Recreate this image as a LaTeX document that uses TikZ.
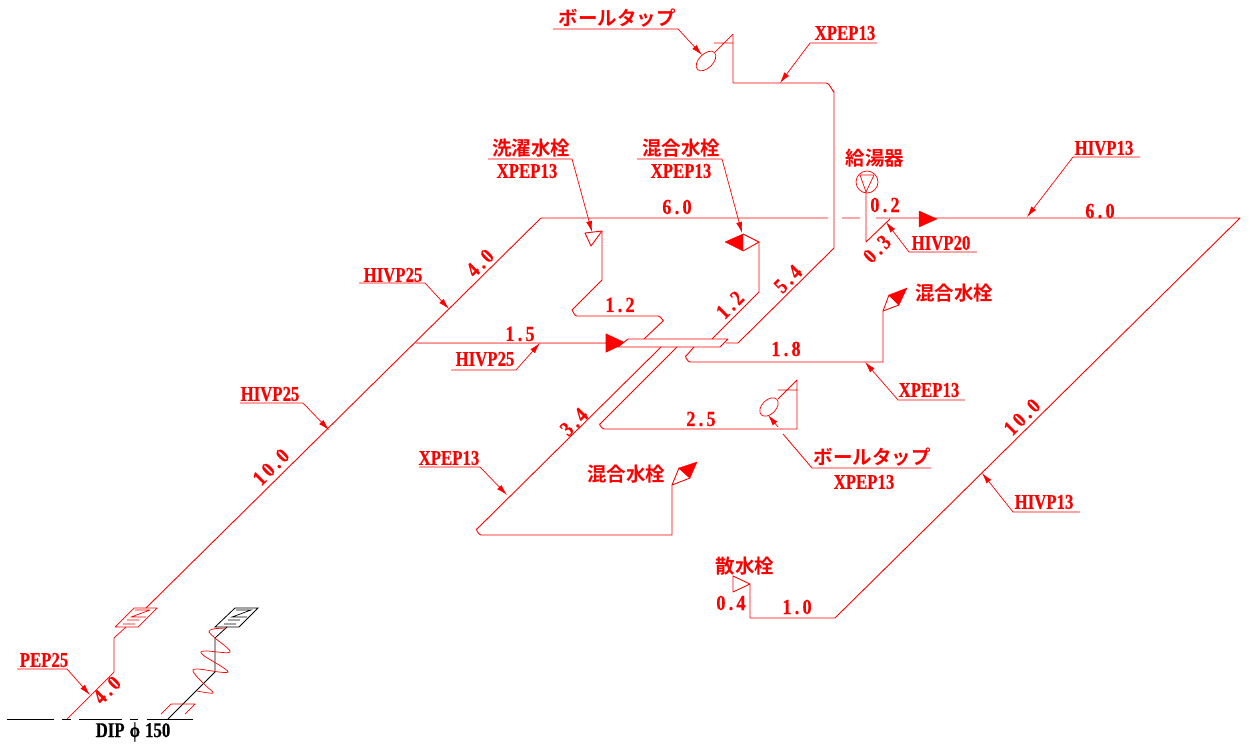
\documentclass[tikz,border=0pt]{standalone}
\usepackage{fontspec}
\usetikzlibrary{arrows.meta}
\setmainfont{Liberation Serif}
\newfontfamily\latinfont[FakeStretch=0.8,FakeBold=0.4]{Liberation Serif Bold}
\newfontfamily\dimfont[FakeStretch=0.85,FakeBold=0.4,LetterSpace=15]{Liberation Serif Bold}
\newfontfamily\cjkfont{Noto Sans CJK JP Bold}
\definecolor{pipered}{RGB}{255,0,0}
\begin{document}
\begin{tikzpicture}[x=1pt,y=-1pt,pipered]
    \tikzset{
        every node/.style={inner sep=0pt, text=pipered},
        pipe/.style={pipered, line width=0.9pt, line join=round},
        thinpipe/.style={pipe, line width=0.7pt},
        leader/.style={pipered, line width=0.7pt, -{Latex[length=11pt,width=6pt]}},
        rule/.style={pipered, line width=0.8pt},
        lbl/.style={font=\latinfont\fontsize{21}{21}\selectfont},
        dim/.style={font=\dimfont\fontsize{21.5}{21}\selectfont},
        rdim/.style={dim, rotate=45},
        jp/.style={font=\cjkfont\fontsize{19.5}{20}\selectfont},
        solid tri/.style={fill=pipered, draw=pipered, line width=0.4pt}
        }
    \useasboundingbox (0,0) rectangle (1250,747);

    %base line
    \draw[black, line width=0.9pt] (7,719) -- (54,719) (62,719) -- (71,719) (79,719) -- (122,719) (130,719) -- (138,719) (147,719) -- (193,719);
    \node (dip) [lbl, text=black] at (133,732) {DIP\hspace{5pt}ϕ\hspace{5pt}150};

    %main riser
    \draw[thinpipe] (67,719) -- (114,672) -- (114,638) -- (126,627);
    \draw[pipe] (146,608) -- (541,218) -- (828,218) (842,218) -- (860,218) (876,218) -- (1240,218) -- (835,618) -- (750,618) -- (750,584) -- (733,592) -- (733,576) -- (750,584);

    %meter
    \draw[thinpipe] (115,627) -- (134,608) -- (157,608) -- (138,627) -- cycle;
    \draw[thinpipe] (123,624) -- (135,624) (127,620) -- (139,620) (135,610) -- (150,610) -- (131,617) -- (146,617);

    %black meter
    \draw[black, line width=0.8pt] (168,719) -- (215,672) -- (215,638) -- (227,627);
    \draw[black, line width=0.8pt] (215,627) -- (235,608) -- (258,608) -- (239,627) -- cycle;
    \draw[black, line width=0.7pt] (224,624) -- (236,624) (228,620) -- (240,620) (236,610) -- (251,610) -- (232,617) -- (247,617);

    %coil and trap
    \draw[thinpipe] plot[smooth, tension=0.6] coordinates {(226,628) (213,629) (209,632) (215,638) (230,652) (205,651) (203,655) (228,672) (197,669) (194,673) (205,685) (213,693) (197,691)};
    \draw[thinpipe] (161,714) -- (171,704) -- (195,704) -- (185,714);

    %ball tap top
    \draw[pipe] (733,34) -- (733,83) -- (826,83) to[out=0,in=-90] (834,91) -- (834,248) -- (738,343) -- (726,343);
    \draw[thinpipe] (733,34) -- (715,52) (714,43) -- (733,43);
    \draw[thinpipe, rotate around={45:(706,61)}] (706,61) ellipse [x radius=12, y radius=7];

    %water heater
    \draw[thinpipe] (867,182) circle (11);
    \draw[thinpipe] (860,175) -- (874,175) -- (866,192) -- cycle;
    \draw[pipe] (866,192) -- (866,242) -- (890,219);

    %flow marks
    \fill[solid tri] (919,211) -- (937,219) -- (919,227) -- cycle;
    \draw[pipe, fill=pipered] (416,343) -- (606,343) -- (606,334) -- (625,343) -- (606,352) -- (606,343);

    %faucets
    \draw[pipe] (585,233) -- (602,231) -- (591,246) -- cycle;
    \draw[pipe] (602,231) -- (602,280) -- (572,310) to[out=-45,in=180] (577,316) -- (658,316) to[out=0,in=-45] (663,321) -- (644,339);
    \fill[solid tri] (725,242) -- (743,234) -- (743,251) -- cycle;
    \draw[pipe] (743,234) -- (759,242) -- (743,251);
    \draw[pipe] (759,242) -- (759,292) -- (712,339);

    %header
    \draw[pipe, fill=white] (628,339) -- (728,339) -- (720,347) -- (618,347) -- cycle;

    %lower branches
    \draw[pipe] (661,347) -- (477,529) to[out=135,in=180] (481,535) -- (672,535) -- (672,485);
    \draw[pipe] (672,485) -- (679,468) -- (690,478) -- cycle;
    \fill[solid tri] (679,468) -- (697,462) -- (690,478) -- cycle;
    \draw[pipe] (677,347) -- (600,424) to[out=135,in=180] (604,429) -- (797,429) -- (797,380) -- (778,399) (778,390) -- (797,390);
    \draw[thinpipe, rotate around={45:(769,407)}] (769,407) ellipse [x radius=11, y radius=7];
    \draw[pipe] (694,347) -- (686,356) to[out=135,in=180] (690,362) -- (883,362) -- (883,311);
    \draw[pipe] (883,311) -- (889,295) -- (899,305) -- cycle;
    \fill[solid tri] (889,295) -- (907,288) -- (899,305) -- cycle;

    %pipe labels
    \node (tap1) [jp] at (617,18) {ボールタップ};
    \draw[leader] (553,29) -- (678,29) -- (702,55);
    \node (xpep1) [lbl] at (845,33) {XPEP13};
    \draw[leader] (877,43) -- (810,43) -- (780,83);
    \node (wash) [jp] at (531,148) {洗濯水栓};
    \node (xpep2) [lbl] at (527,171) {XPEP13};
    \draw[leader] (488,159) -- (572,159) -- (592,232);
    \node (mix1) [jp] at (681,148) {混合水栓};
    \node (xpep3) [lbl] at (681,171) {XPEP13};
    \draw[leader] (637,159) -- (722,159) -- (742,233);
    \node (heater) [jp] at (875,158) {給湯器};
    \node (hivp1) [lbl] at (1104,148) {HIVP13};
    \draw[leader] (1140,157) -- (1073,157) -- (1027,217);
    \node (hivp2) [lbl] at (941,243) {HIVP20};
    \draw[leader] (977,252) -- (909,252) -- (886,222);
    \node (hivp3) [lbl] at (393,275) {HIVP25};
    \draw[leader] (359,283) -- (425,283) -- (449,309);
    \node (hivp4) [lbl] at (485,359) {HIVP25};
    \draw[leader] (451,370) -- (516,370) -- (540,343);
    \node (hivp5) [lbl] at (270,394) {HIVP25};
    \draw[leader] (240,403) -- (303,403) -- (329,430);
    \node (pep) [lbl] at (44,660) {PEP25};
    \draw[leader] (17,669) -- (67,669) -- (90,695);
    \node (mix2) [jp] at (954,293) {混合水栓};
    \node (xpep4) [lbl] at (929,390) {XPEP13};
    \draw[leader] (965,400) -- (898,400) -- (865,362);
    \node (mix3) [jp] at (626,474) {混合水栓};
    \node (xpep5) [lbl] at (449,458) {XPEP13};
    \draw[leader] (419,467) -- (480,467) -- (507,495);
    \node (tap2) [jp] at (872,457) {ボールタップ};
    \node (xpep6) [lbl] at (864,482) {XPEP13};
    \draw[rule] (931,468) -- (812,468) -- (783,434);
    \draw[leader] (778,427) -- (768,415);
    \node (hivp6) [lbl] at (1044,502) {HIVP13};
    \draw[leader] (1080,512) -- (1013,512) -- (982,473);
    \node (sprinkler) [jp] at (745,566) {散水栓};

    %lengths
    \node (d1) [dim] at (677,207) {6.0};
    \node (d2) [dim] at (1100,211) {6.0};
    \node (d3) [dim] at (885,205) {0.2};
    \node (d4) [rdim] at (877,249) {0.3};
    \node (d5) [rdim] at (480,263) {4.0};
    \node (d6) [dim] at (620,305) {1.2};
    \node (d7) [rdim] at (730,305) {1.2};
    \node (d8) [rdim] at (788,279) {5.4};
    \node (d9) [dim] at (520,334) {1.5};
    \node (d10) [dim] at (786,349) {1.8};
    \node (d11) [rdim] at (574,422) {3.4};
    \node (d12) [dim] at (701,419) {2.5};
    \node (d13) [rdim] at (1022,417) {10.0};
    \node (d14) [rdim] at (271,467) {10.0};
    \node (d15) [dim] at (731,603) {0.4};
    \node (d16) [dim] at (797,607) {1.0};
    \node (d17) [rdim] at (107,690) {4.0};
\end{tikzpicture}
\end{document}
